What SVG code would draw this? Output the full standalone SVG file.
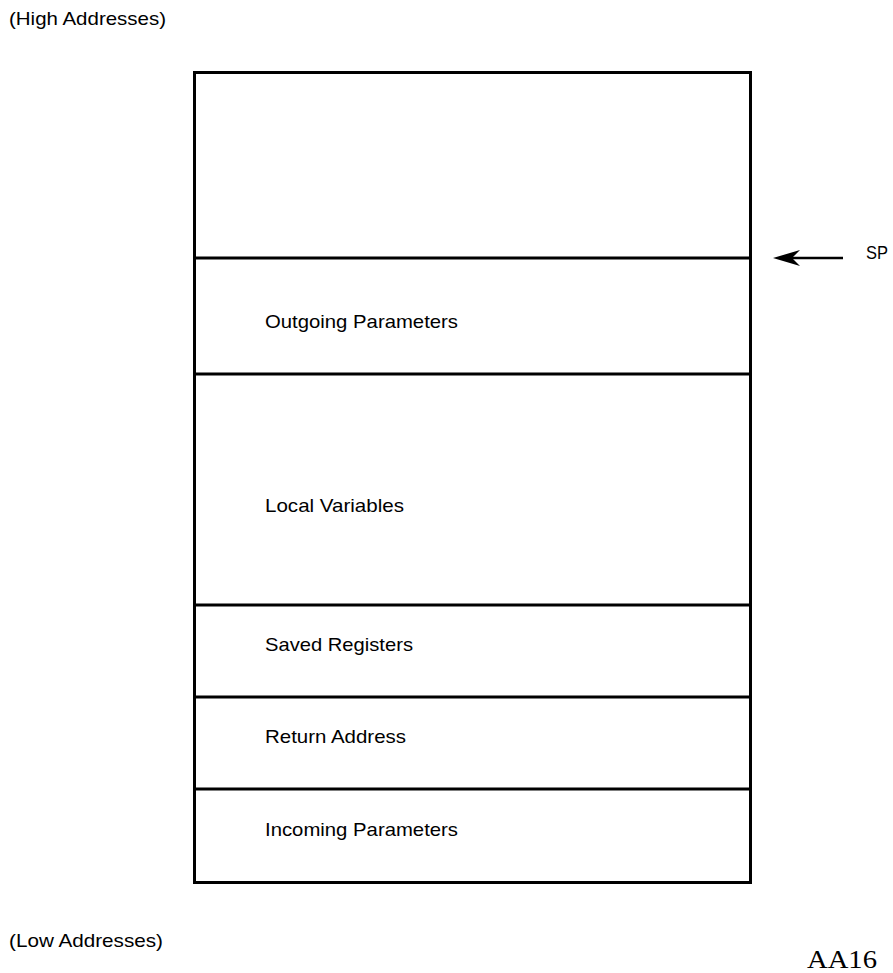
<svg xmlns="http://www.w3.org/2000/svg" width="893" height="973" viewBox="0 0 893 973">
<style>
.t{font-family:"Liberation Sans",Arial,sans-serif;font-size:19px;fill:#000}
.box{fill:#fff;stroke:#000;stroke-width:3}
.div{stroke:#000;stroke-width:3}
.arrowhead{fill:#000}
</style>
<rect width="893" height="973" fill="#fff"/>
<text class="t" x="9" y="25" textLength="157" lengthAdjust="spacingAndGlyphs">(High Addresses)</text>
<g id="stack">
<rect class="box" x="194.5" y="72.5" width="556" height="810"/>
</g>
<g id="outgoing">
<line class="div" x1="194.5" y1="258" x2="750.5" y2="258"/>
<text class="t" x="265" y="328" textLength="193" lengthAdjust="spacingAndGlyphs">Outgoing Parameters</text>
</g>
<g id="locals">
<line class="div" x1="194.5" y1="374" x2="750.5" y2="374"/>
<text class="t" x="265" y="512" textLength="139" lengthAdjust="spacingAndGlyphs">Local Variables</text>
</g>
<g id="saved">
<line class="div" x1="194.5" y1="605" x2="750.5" y2="605"/>
<text class="t" x="265" y="651" textLength="148" lengthAdjust="spacingAndGlyphs">Saved Registers</text>
</g>
<g id="return">
<line class="div" x1="194.5" y1="697" x2="750.5" y2="697"/>
<text class="t" x="265" y="743" textLength="141" lengthAdjust="spacingAndGlyphs">Return Address</text>
</g>
<g id="incoming">
<line class="div" x1="194.5" y1="789" x2="750.5" y2="789"/>
<text class="t" x="265" y="836" textLength="193" lengthAdjust="spacingAndGlyphs">Incoming Parameters</text>
</g>
<g id="sp">
<text class="t" x="866" y="259" textLength="22" lengthAdjust="spacingAndGlyphs">SP</text>
</g>
<g id="connectors">
<line x1="843" y1="258" x2="792" y2="258" stroke="#000" stroke-width="2.5"/>
<path class="arrowhead" d="M773,258 L800,250 L792,258 L800,266 Z"/>
</g>
<text class="t" x="9" y="947" textLength="154" lengthAdjust="spacingAndGlyphs">(Low Addresses)</text>
<text x="807" y="968" font-family="'Liberation Serif','Times New Roman',serif" font-size="26" textLength="70" lengthAdjust="spacingAndGlyphs">AA16</text>
</svg>
